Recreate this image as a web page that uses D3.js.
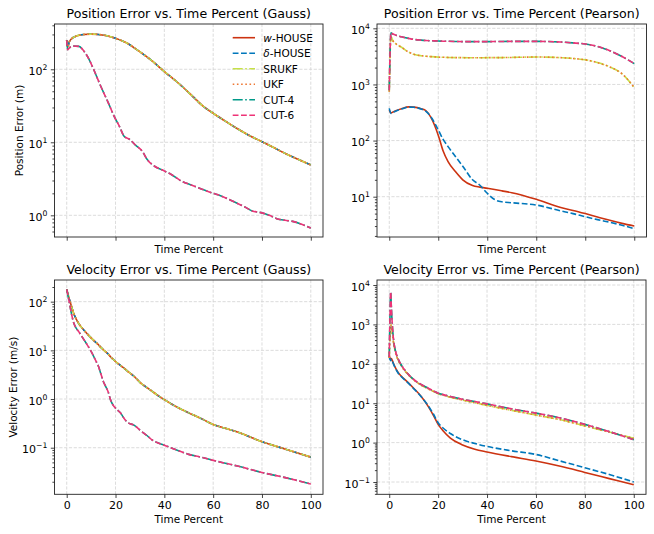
<!DOCTYPE html>
<html>
<head>
<meta charset="utf-8">
<script src="https://cdn.jsdelivr.net/npm/d3@7"></script>
<style>
  body { margin: 0; background: #fff; }
  svg { display: block; }
  text { font-family: "DejaVu Sans", sans-serif; fill: #000; }
</style>
</head>
<body>
<div id="chart"></div>
<script>
// ---- data ----
const names = ["w-HOUSE", "δ-HOUSE", "SRUKF", "UKF", "CUT-4", "CUT-6"];
const xTicks = [0, 20, 40, 60, 80, 100];

// position error, Gauss
const gaussPosHouseT = [0, 0.4, 1, 2, 4, 7, 10, 13, 16, 20, 25, 29, 35, 40, 45, 50, 56, 60, 65, 70, 75, 80, 85, 90, 95, 100];
const gaussPosHouse = [251, 200, 235, 262, 285, 300, 303, 300, 290, 265, 225, 183, 130, 93, 68, 48, 31, 25, 19.5, 15.3, 12.3, 10.2, 8.4, 6.9, 5.8, 4.9];
const gaussPosCutT = [0, 0.4, 1, 2.5, 5, 7, 9, 11, 14, 17, 19.5, 21.6, 23.6, 25.7, 28.4, 31, 33, 36, 39, 43, 47, 51, 55.7, 60, 63, 66, 70, 73, 76, 80, 83, 86, 90, 93, 96, 100];
const gaussPosCut = [251, 185, 195, 208, 206, 178, 140, 100, 58, 35, 22.5, 16.5, 12, 11, 9, 7.5, 5.8, 4.7, 4.2, 3.6, 2.94, 2.6, 2.26, 2.0, 1.85, 1.68, 1.45, 1.3, 1.15, 1.08, 1.0, 0.9, 0.85, 0.82, 0.76, 0.67];

// position error, Pearson
const pearPosT = [0, 0.7, 1.5, 3, 5, 8, 10, 13, 15, 17, 20, 22, 24, 27, 30, 34, 37, 40, 43, 46, 50, 60, 70, 75, 80, 85, 90, 95, 100];
const pearPosW = [348, 312, 322, 345, 370, 398, 395, 370, 340, 260, 125, 65, 42, 28, 20, 15.8, 14.8, 14.1, 13.4, 12.7, 11.8, 9.0, 6.4, 5.7, 5.0, 4.35, 3.8, 3.35, 3.0];
const pearPosD = [375, 305, 318, 340, 365, 395, 392, 365, 330, 265, 155, 105, 78, 52, 35, 20, 16, 11.5, 8.9, 8.1, 7.8, 7.1, 5.6, 5.0, 4.4, 3.9, 3.5, 3.1, 2.7];
const pearPosUkf = [740, 7000, 6000, 5200, 4600, 3750, 3450, 3250, 3180, 3130, 3070, 3050, 3030, 3010, 3000, 2990, 2990, 3000, 3000, 3010, 3030, 3080, 3000, 2900, 2750, 2450, 2050, 1550, 880];
const pearPosCut = [790, 8300, 7900, 7450, 7050, 6600, 6350, 6150, 6050, 6000, 5950, 5900, 5870, 5830, 5800, 5800, 5800, 5800, 5810, 5830, 5850, 5850, 5700, 5500, 5250, 4750, 4000, 3150, 2350];

// velocity error, Gauss
const gaussVelT = [0, 1, 2, 3, 4, 5, 6, 8, 10, 12, 13, 14, 15, 16, 17, 18, 19, 20, 22, 24, 25, 26, 27, 28, 30, 33, 35, 37, 40, 45, 50, 55, 60, 65, 70, 80, 90, 100];
const gaussVelHouse = [179, 117, 79, 55, 43, 35, 30, 23, 18, 14.5, 13, 11.5, 10.3, 9.3, 8.4, 7.3, 6.6, 5.9, 4.9, 4.1, 3.7, 3.4, 3.1, 2.8, 2.2, 1.7, 1.44, 1.22, 0.97, 0.69, 0.52, 0.4, 0.30, 0.25, 0.21, 0.133, 0.092, 0.064];
const gaussVelCut = [179, 100, 55, 35, 28, 24, 20, 14, 9.5, 6, 4.7, 3.3, 2.3, 1.8, 1.4, 0.95, 0.75, 0.65, 0.52, 0.37, 0.33, 0.31, 0.3, 0.28, 0.23, 0.176, 0.144, 0.128, 0.113, 0.090, 0.073, 0.064, 0.055, 0.048, 0.042, 0.031, 0.024, 0.018];

// velocity error, Pearson
const pearVelT = [0, 0.3, 0.6, 0.9, 1.3, 1.8, 2.5, 3.5, 5, 7, 10, 13, 16, 18, 20, 22, 25, 30, 35, 40, 50, 60, 70, 80, 90, 100];
const pearVelW = [165, 140, 125, 135, 120, 100, 80, 62, 48, 37, 24, 15, 8.2, 5, 2.9, 2.0, 1.3, 0.87, 0.68, 0.58, 0.44, 0.34, 0.25, 0.175, 0.122, 0.085];
const pearVelD = [150, 130, 120, 130, 115, 97, 78, 60, 47, 36, 23.5, 14.8, 8.5, 5.4, 3.2, 2.35, 1.7, 1.18, 0.95, 0.8, 0.62, 0.5, 0.34, 0.23, 0.155, 0.1];
const pearVelUkf = [140, 500, 1000, 800, 550, 330, 200, 130, 88, 60, 39, 29, 23, 20, 17.5, 16, 14.2, 12, 10.3, 8.8, 6.6, 5.0, 3.8, 2.65, 1.85, 1.28];
const pearVelCut = [148, 1500, 6700, 2500, 900, 400, 220, 140, 92, 62, 40, 30, 24, 20.5, 18, 16.5, 14.8, 12.6, 11, 9.6, 7.2, 5.6, 4.2, 2.9, 1.9, 1.18];

// ---- look ----
const width = 654;
const height = 534;

const styles = {
  "w-HOUSE": { color: "#CC3311", dash: null },
  "δ-HOUSE": { color: "#0077BB", dash: "5.8,2.5" },
  "SRUKF": { color: "#C6E048", dash: "10,2.5,1.6,2.5" },
  "UKF": { color: "#EE7733", dash: "1.6,2.6" },
  "CUT-4": { color: "#009988", dash: "10,2.5,1.6,2.5" },
  "CUT-6": { color: "#EE3377", dash: "5.8,2.5" },
};

const panels = [
  {
    title: "Position Error vs. Time Percent (Gauss)",
    box: [54.5, 323, 24, 237], ylim: [-0.297, 2.62],
    ylabel: "Position Error (m)", ylabelX: 19, xlabels: false, legend: true,
    series: {
      "w-HOUSE": [gaussPosHouseT, gaussPosHouse], "δ-HOUSE": [gaussPosHouseT, gaussPosHouse],
      "SRUKF": [gaussPosHouseT, gaussPosHouse], "UKF": [gaussPosHouseT, gaussPosHouse],
      "CUT-4": [gaussPosCutT, gaussPosCut], "CUT-6": [gaussPosCutT, gaussPosCut],
    },
  },
  {
    title: "Position Error vs. Time Percent (Pearson)",
    box: [377, 646.5, 24, 237], ylim: [0.282, 4.077],
    ylabel: null, xlabels: false, legend: false,
    series: {
      "w-HOUSE": [pearPosT, pearPosW], "δ-HOUSE": [pearPosT, pearPosD],
      "SRUKF": [pearPosT, pearPosUkf], "UKF": [pearPosT, pearPosUkf],
      "CUT-4": [pearPosT, pearPosCut], "CUT-6": [pearPosT, pearPosCut],
    },
  },
  {
    title: "Velocity Error vs. Time Percent (Gauss)",
    box: [54.5, 323, 280, 494.3], ylim: [-1.957, 2.445],
    ylabel: "Velocity Error (m/s)", ylabelX: 13.3, xlabels: true, legend: false,
    series: {
      "w-HOUSE": [gaussVelT, gaussVelHouse], "δ-HOUSE": [gaussVelT, gaussVelHouse],
      "SRUKF": [gaussVelT, gaussVelHouse], "UKF": [gaussVelT, gaussVelHouse],
      "CUT-4": [gaussVelT, gaussVelCut], "CUT-6": [gaussVelT, gaussVelCut],
    },
  },
  {
    title: "Velocity Error vs. Time Percent (Pearson)",
    box: [377, 646, 280, 494.3], ylim: [-1.312, 4.127],
    ylabel: null, xlabels: true, legend: false,
    series: {
      "w-HOUSE": [pearVelT, pearVelW], "δ-HOUSE": [pearVelT, pearVelD],
      "SRUKF": [pearVelT, pearVelUkf], "UKF": [pearVelT, pearVelUkf],
      "CUT-4": [pearVelT, pearVelCut], "CUT-6": [pearVelT, pearVelCut],
    },
  },
];

const svg = d3
  .select("#chart")
  .append("svg")
  .attr("width", width)
  .attr("height", height);

function styleAxis(g) {
  g.select(".domain").remove();
  g.selectAll(".tick line").attr("stroke", "#222").attr("stroke-width", 0.85);
  g.attr("font-family", "DejaVu Sans").attr("font-size", 11);
}

panels.forEach((p, i) => {
  const [x0, x1, y0, y1] = p.box;
  const x = d3.scaleLinear().domain([-5, 105]).range([x0, x1]);
  const y = d3.scaleLog().domain(p.ylim.map((e) => 10 ** e)).range([y1, y0]);
  const g = svg.append("g");

  // decades and minor ticks inside the limits
  const majors = [];
  const minors = [];
  for (let k = Math.floor(p.ylim[0]); k <= Math.ceil(p.ylim[1]); k++) {
    if (k >= p.ylim[0] && k <= p.ylim[1]) majors.push(k);
    for (let m = 2; m <= 9; m++) {
      const lv = k + Math.log10(m);
      if (lv >= p.ylim[0] && lv <= p.ylim[1]) minors.push(m * 10 ** k);
    }
  }

  // grade
  const grid = g.append("g").attr("stroke", "#d3d3d3").attr("stroke-width", 0.8).attr("stroke-dasharray", "3.2,1.6");
  xTicks.forEach((t) => {
    grid.append("line").attr("x1", x(t)).attr("x2", x(t)).attr("y1", y0).attr("y2", y1);
  });
  majors.forEach((k) => {
    grid.append("line").attr("x1", x0).attr("x2", x1).attr("y1", y(10 ** k)).attr("y2", y(10 ** k));
  });

  // curvas
  svg.append("clipPath").attr("id", "clip" + i)
    .append("rect").attr("x", x0).attr("y", y0).attr("width", x1 - x0).attr("height", y1 - y0);

  const line = d3.line()
    .x((d) => x(d[0]))
    .y((d) => y(d[1]))
    .curve(d3.curveMonotoneX);

  const lines = g.append("g").attr("clip-path", `url(#clip${i})`);
  names.forEach((n) => {
    const [t, v] = p.series[n];
    lines.append("path")
      .datum(d3.zip(t, v))
      .attr("d", line)
      .attr("fill", "none")
      .attr("stroke", styles[n].color)
      .attr("stroke-width", 1.6)
      .attr("stroke-dasharray", styles[n].dash);
  });

  // spines
  g.append("rect")
    .attr("x", x0).attr("y", y0).attr("width", x1 - x0).attr("height", y1 - y0)
    .attr("fill", "none").attr("stroke", "#222").attr("stroke-width", 0.9);

  // eixo x
  g.append("g")
    .attr("transform", `translate(0,${y1})`)
    .call(d3.axisBottom(x).tickValues(xTicks).tickSize(3.7).tickPadding(3.5)
      .tickFormat(p.xlabels ? d3.format("d") : ""))
    .call(styleAxis);

  // eixo y (log)
  const yAxis = g.append("g")
    .attr("transform", `translate(${x0},0)`)
    .call(d3.axisLeft(y).tickValues(majors.map((k) => 10 ** k)).tickSize(3.7).tickPadding(3.5).tickFormat(""))
    .call(styleAxis);
  yAxis.selectAll(".tick text").each(function (d) {
    const k = Math.round(Math.log10(d));
    const el = d3.select(this).attr("dy", "0.46em");
    el.append("tspan").text("10");
    el.append("tspan").attr("dy", -4.8).attr("font-size", 7.7).text(k < 0 ? "−" + -k : k);
  });
  g.append("g")
    .attr("transform", `translate(${x0},0)`)
    .call(d3.axisLeft(y).tickValues(minors).tickSize(2.1).tickFormat(""))
    .call(styleAxis);

  // textos
  g.append("text")
    .attr("x", (x0 + x1) / 2).attr("y", y0 - 6.5)
    .attr("text-anchor", "middle").attr("font-size", 12.6)
    .text(p.title);

  g.append("text")
    .attr("x", (x0 + x1) / 2).attr("y", y1 + (p.xlabels ? 28.7 : 16))
    .attr("text-anchor", "middle").attr("font-size", 10.5)
    .text("Time Percent");

  if (p.ylabel) {
    const cy = (y0 + y1) / 2;
    g.append("text")
      .attr("transform", `translate(${p.ylabelX},${cy}) rotate(-90)`)
      .attr("dy", "0.36em")
      .attr("text-anchor", "middle").attr("font-size", 10.5)
      .text(p.ylabel);
  }

  // legenda
  if (p.legend) {
    const leg = g.append("g");
    names.forEach((n, j) => {
      const ry = 37.7 + j * 15.5;
      leg.append("line")
        .attr("x1", 232.7).attr("x2", 255).attr("y1", ry).attr("y2", ry)
        .attr("stroke", styles[n].color).attr("stroke-width", 1.6)
        .attr("stroke-dasharray", styles[n].dash);
      const txt = leg.append("text").attr("x", 263.3).attr("y", ry + 3.8).attr("font-size", 10.5);
      if (n === "w-HOUSE" || n === "δ-HOUSE") {
        txt.append("tspan").attr("font-style", "italic").text(n[0]);
        txt.append("tspan").text(n.slice(1));
      } else {
        txt.text(n);
      }
    });
  }
});
</script>
</body>
</html>
